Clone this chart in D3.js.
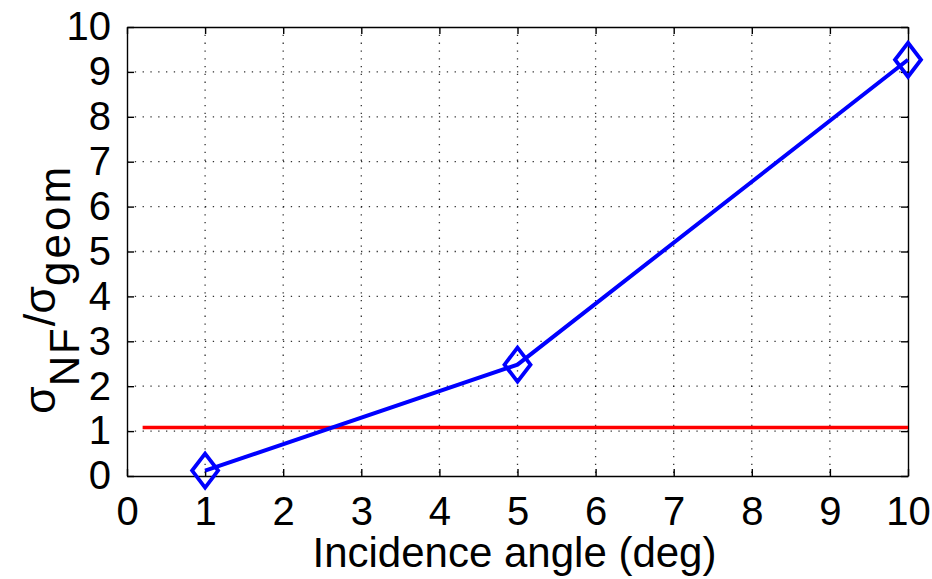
<script src="https://d3js.org/d3.v7.min.js"></script>
<style>
 body { margin: 0; background: #fff; }
 text { font-family: "Liberation Sans", Arial, sans-serif; fill: #000; }
</style>
<svg height="579" width="932"></svg>

<script>
 // data
 var angles = [1, 5, 10];
 var ratio = [0.12, 2.48, 9.27];
 var refX = [0.2, 10];
 var refY = [1.08, 1.08];
 var xTicks = [0, 1, 2, 3, 4, 5, 6, 7, 8, 9, 10];
 var yTicks = [0, 1, 2, 3, 4, 5, 6, 7, 8, 9, 10];

 var svg = d3.select("svg");
 var L = 127, R = 908, T = 27, B = 476;

 var x = d3.scaleLinear().domain([0, 10]).range([L, R]);
 var y = d3.scaleLinear().domain([0, 10]).range([B, T]);

 // dotted grid
 var grid = svg.append("g");
 xTicks.slice(1, -1).forEach(function (t) {
     grid.append("line").attr("x1", x(t)).attr("x2", x(t)).attr("y1", T).attr("y2", B);
 });
 yTicks.slice(1, -1).forEach(function (t) {
     grid.append("line").attr("x1", L).attr("x2", R).attr("y1", y(t)).attr("y2", y(t));
 });
 grid.selectAll("line").attr("stroke", "#000").attr("stroke-width", 1.3)
     .attr("stroke-dasharray", "1.3,6.5").attr("opacity", 0.8);

 // axes with inward ticks, box on
 var tl = 7;
 svg.append("g").attr("transform", "translate(0," + B + ")")
    .call(d3.axisBottom(x).tickValues(xTicks).tickSizeInner(-tl).tickSizeOuter(0).tickPadding(21));
 svg.append("g").attr("transform", "translate(0," + T + ")")
    .call(d3.axisTop(x).tickValues(xTicks).tickSizeInner(-tl).tickSizeOuter(0).tickFormat(""));
 svg.append("g").attr("transform", "translate(" + L + ",0)")
    .call(d3.axisLeft(y).tickValues(yTicks).tickSizeInner(-tl).tickSizeOuter(0).tickPadding(16));
 svg.append("g").attr("transform", "translate(" + R + ",0)")
    .call(d3.axisRight(y).tickValues(yTicks).tickSizeInner(-tl).tickSizeOuter(0).tickFormat(""));

 svg.selectAll(".domain").attr("stroke", "#000").attr("stroke-width", 1.4);
 svg.selectAll(".tick line").attr("stroke", "#000").attr("stroke-width", 1.4);
 svg.selectAll(".tick text").attr("font-size", "40px")
    .attr("font-family", "Liberation Sans, Arial, sans-serif").attr("fill", "#000");

 // reference line
 var refLine = d3.line().x(function (d) { return x(d[0]); }).y(function (d) { return y(d[1]); });
 svg.append("path")
    .attr("d", refLine(d3.zip(refX, refY)))
    .attr("stroke", "#ff0000").attr("stroke-width", 3.5).attr("fill", "none");

 // data line + diamond markers
 var pts = d3.zip(angles, ratio);
 svg.append("path")
    .attr("d", refLine(pts))
    .attr("stroke", "#0000ff").attr("stroke-width", 4).attr("fill", "none");

 var hw = 13, hh = 17;
 svg.selectAll(".mk").data(pts).enter().append("path")
    .attr("class", "mk")
    .attr("d", function (d) {
        var cx = x(d[0]), cy = y(d[1]);
        return "M " + cx + " " + (cy - hh) + " L " + (cx + hw) + " " + cy +
               " L " + cx + " " + (cy + hh) + " L " + (cx - hw) + " " + cy + " Z";
    })
    .attr("stroke", "#0000ff").attr("stroke-width", 3.8).attr("fill", "none");

 // axis labels
 svg.append("text")
    .attr("x", (L + R) / 2 - 3).attr("y", 567)
    .attr("text-anchor", "middle").attr("font-size", "42px")
    .text("Incidence angle (deg)");

 var yl = svg.append("text")
    .attr("transform", "translate(55,414) rotate(-90)")
    .attr("font-size", "45px");
 yl.append("tspan").text("σ");
 yl.append("tspan").attr("dy", 24).attr("font-size", "42px").attr("letter-spacing", "2px").text("NF");
 yl.append("tspan").attr("dy", -24).text("/");
 yl.append("tspan").text("σ");
 yl.append("tspan").attr("dy", 15).attr("font-size", "44px").attr("letter-spacing", "3px").text("geom");
</script>
